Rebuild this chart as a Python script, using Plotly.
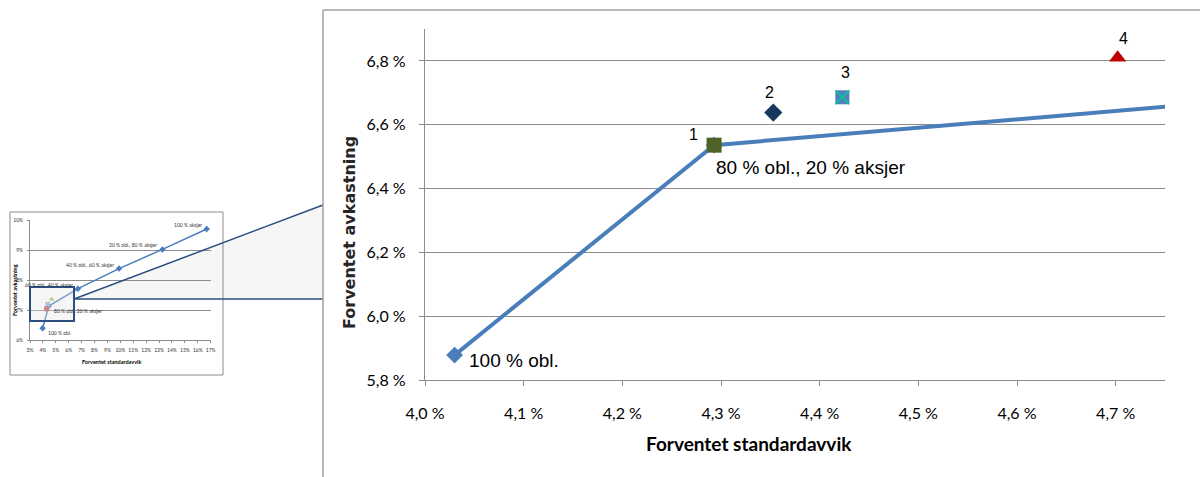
import plotly.graph_objects as go

W, H = 1200, 477

# ---- Main panel: efficient frontier, zoomed in (expected st.dev. vs expected return, %) ----
front_sd = [4.03, 4.293, 6.82]
front_ret = [5.878, 6.536, 7.20]
front_labels = ["100 % obl.", "80 % obl., 20 % aksjer", "60 % obl., 40 % aksjer"]

alt_names = ["1", "2", "3", "4"]
alt_sd = [4.293, 4.353, 4.423, 4.702]
alt_ret = [6.536, 6.638, 6.686, 6.810]

x_tickvals = [4.0, 4.1, 4.2, 4.3, 4.4, 4.5, 4.6, 4.7]
x_ticktext = ["4,0 %", "4,1 %", "4,2 %", "4,3 %", "4,4 %", "4,5 %", "4,6 %", "4,7 %"]
y_tickvals = [5.8, 6.0, 6.2, 6.4, 6.6, 6.8]
y_ticktext = ["5,8 %", "6,0 %", "6,2 %", "6,4 %", "6,6 %", "6,8 %"]

# ---- Overview inset: the full frontier ----
ov_sd = [3.98, 4.45, 6.72, 9.90, 13.26, 16.69]
ov_ret = [6.39, 7.13, 7.71, 8.38, 9.02, 9.70]
ov_labels = ["100 % obl.", "80 % obl., 20 % aksjer", "60 % obl., 40 % aksjer",
             "40 % obl., 60 % aksjer", "20 % obl., 80 % aksjer", "100 % aksjer"]
ov_alt_sd = [4.29, 4.36, 4.68]
ov_alt_ret = [7.04, 7.20, 7.36]
ov_x_tickvals = list(range(3, 18))
ov_x_ticktext = [f"{v}%" for v in ov_x_tickvals]
ov_y_tickvals = [6, 7, 8, 9, 10]
ov_y_ticktext = [f"{v}%" for v in ov_y_tickvals]


def px(x):
    return x / W


def py(y):
    return 1 - y / H


BLUE = "#4a7ebb"
GRID = "#8c8c8c"
NAVY = "#2c4f80"
TICK_FONT = dict(family="Lato", size=16, color="#000000")
LABEL_FONT = dict(family="Liberation Sans", size=19, color="#000000")

fig = go.Figure()

# frontier line (main)
fig.add_trace(go.Scatter(
    x=front_sd, y=front_ret, mode="lines+markers",
    line=dict(color=BLUE, width=4),
    marker=dict(symbol="diamond", size=13, color=BLUE, opacity=1, line=dict(width=0)),
    xaxis="x", yaxis="y", hoverinfo="skip",
))

# alternative portfolios 1-4
alt_symbols = ["square", "diamond", "square", "triangle-up"]
alt_colors = ["#4f6228", "#17375e", "#4f81bd", "#c00000"]
alt_sizes = [15, 14, 14, 15]
fig.add_trace(go.Scatter(
    x=alt_sd, y=alt_ret, mode="markers",
    marker=dict(symbol=alt_symbols, size=alt_sizes, color=alt_colors, opacity=1,
                line=dict(width=0)),
    xaxis="x", yaxis="y", hoverinfo="skip",
))
# cross drawn over portfolio 3
fig.add_trace(go.Scatter(
    x=[alt_sd[2]], y=[alt_ret[2]], mode="markers",
    marker=dict(symbol="x-thin-open", size=14, opacity=1, line=dict(color="#8064a2", width=1.5)),
    xaxis="x", yaxis="y", hoverinfo="skip",
))

# overview inset
fig.add_trace(go.Scatter(
    x=ov_sd, y=ov_ret, mode="lines+markers",
    line=dict(color=BLUE, width=1.5),
    marker=dict(symbol="diamond", size=5, color=BLUE, opacity=1, line=dict(width=0)),
    xaxis="x2", yaxis="y2", hoverinfo="skip",
))
fig.add_trace(go.Scatter(
    x=ov_alt_sd, y=ov_alt_ret, mode="markers",
    marker=dict(symbol=["square", "x", "triangle-up"], size=5, opacity=1,
                color=["#c0504d", "#8fb3d9", "#9bbb59"], line=dict(width=0)),
    xaxis="x2", yaxis="y2", hoverinfo="skip",
))

annotations = []

# frontier labels in main panel (only those inside the visible range)
front_offsets = [(12, -5), (0, -22), (0, -22)]
for sd, ret, txt, (dx, dy) in zip(front_sd, front_ret, front_labels, front_offsets):
    if sd <= 4.75 and ret <= 6.9:
        annotations.append(dict(
            x=sd, y=ret, xref="x", yref="y", text=txt, showarrow=False,
            xanchor="left", yanchor="middle", xshift=dx, yshift=dy, font=LABEL_FONT,
        ))

alt_offsets = [(-21, 11), (-4, 20), (3, 25), (6, 19)]
for sd, ret, txt, (dx, dy) in zip(alt_sd, alt_ret, alt_names, alt_offsets):
    annotations.append(dict(
        x=sd, y=ret, xref="x", yref="y", text=txt, showarrow=False,
        xanchor="center", yanchor="middle", xshift=dx, yshift=dy,
        font=dict(family="Liberation Sans", size=16, color="#000000"),
    ))

# axis titles (main)
annotations.append(dict(
    x=px(749), y=py(443), xref="paper", yref="paper", text="<b>Forventet standardavvik</b>",
    showarrow=False, xanchor="center", yanchor="middle",
    font=dict(family="Lato", size=19, color="#000000"),
))
annotations.append(dict(
    x=px(350), y=py(233), xref="paper", yref="paper", text="<b>Forventet avkastning</b>",
    showarrow=False, xanchor="center", yanchor="middle", textangle=-90,
    font=dict(family="DejaVu Sans", size=16, color="#262626"),
))

# inset labels
SMALL = dict(family="Lato", size=5, color="#333333")
for i, (sd, ret, txt) in enumerate(zip(ov_sd, ov_ret, ov_labels)):
    if i < 2:
        annotations.append(dict(x=sd, y=ret, xref="x2", yref="y2", text=txt, showarrow=False,
                                xanchor="left", yanchor="middle", xshift=3, yshift=-5, font=SMALL))
    else:
        annotations.append(dict(x=sd, y=ret, xref="x2", yref="y2", text=txt, showarrow=False,
                                xanchor="right", yanchor="middle", xshift=-3, yshift=4, font=SMALL))
annotations.append(dict(
    x=px(112), y=py(362), xref="paper", yref="paper", text="<b>Forventet standardavvik</b>",
    showarrow=False, xanchor="center", yanchor="middle",
    font=dict(family="Lato", size=5.5, color="#000000"),
))
annotations.append(dict(
    x=px(15), y=py(290), xref="paper", yref="paper", text="<b>Forventet avkastning</b>",
    showarrow=False, xanchor="center", yanchor="middle", textangle=-90,
    font=dict(family="Lato", size=5.5, color="#000000"),
))

shapes = [
    # inset card
    dict(type="rect", xref="paper", yref="paper", x0=px(10), x1=px(223), y0=py(375), y1=py(212),
         line=dict(width=0), fillcolor="#ffffff", layer="below"),
    # connector wedge towards the magnified panel
    dict(type="path", xref="paper", yref="paper",
         path=f"M {px(74)},{py(299)} L {px(323)},{py(205)} L {px(323)},{py(299)} Z",
         line=dict(width=0), fillcolor="#f6f6f6", layer="below"),
    dict(type="rect", xref="paper", yref="paper", x0=px(10), x1=px(223), y0=py(375), y1=py(212),
         line=dict(color="#8c8c8c", width=1), fillcolor="rgba(0,0,0,0)", layer="below"),
    # zoom window in the inset
    dict(type="rect", xref="paper", yref="paper", x0=px(30), x1=px(74), y0=py(321), y1=py(287),
         line=dict(color=NAVY, width=2), fillcolor="rgba(225,225,225,0.35)", layer="above"),
    dict(type="line", xref="paper", yref="paper", x0=px(74), y0=py(299), x1=px(323), y1=py(205),
         line=dict(color=NAVY, width=1.5), layer="above"),
    dict(type="line", xref="paper", yref="paper", x0=px(74), y0=py(299), x1=px(323), y1=py(299),
         line=dict(color=NAVY, width=1.5), layer="above"),
    # frame of the magnified panel
    dict(type="line", xref="paper", yref="paper", x0=px(323), y0=py(477), x1=px(323), y1=py(10),
         line=dict(color="#a0a0a0", width=1.5), layer="above"),
    dict(type="line", xref="paper", yref="paper", x0=px(323), y0=py(10), x1=px(1200), y1=py(10),
         line=dict(color="#a0a0a0", width=1.5), layer="above"),
]

fig.update_layout(
    width=W, height=H,
    margin=dict(l=0, r=0, t=0, b=0, pad=0, autoexpand=False),
    paper_bgcolor="#ffffff",
    plot_bgcolor="rgba(0,0,0,0)",
    showlegend=False,
    annotations=annotations,
    shapes=shapes,
    xaxis=dict(
        domain=[px(425), px(1165)], range=[4.0, 4.75], anchor="y", automargin=False,
        tickvals=x_tickvals, ticktext=x_ticktext, tickfont=TICK_FONT,
        ticks="outside", ticklen=5, tickcolor=GRID, tickwidth=1.3,
        showline=True, linecolor=GRID, linewidth=1.3,
        showgrid=False, zeroline=False, ticklabelstandoff=14,
    ),
    yaxis=dict(
        domain=[py(380), py(29)], range=[5.8, 6.9], anchor="x", automargin=False,
        tickvals=y_tickvals, ticktext=y_ticktext, tickfont=TICK_FONT,
        ticks="outside", ticklen=5, tickcolor=GRID, tickwidth=1.3,
        showline=True, linecolor=GRID, linewidth=1.3,
        showgrid=True, gridcolor=GRID, gridwidth=1.3, zeroline=False,
        ticklabelstandoff=10,
    ),
    xaxis2=dict(
        domain=[px(30), px(210.7)], range=[3, 17], anchor="y2", automargin=False,
        tickvals=ov_x_tickvals, ticktext=ov_x_ticktext,
        tickfont=dict(family="Lato", size=5, color="#333333"),
        ticks="outside", ticklen=2, tickcolor=GRID, tickwidth=0.8,
        showline=True, linecolor=GRID, linewidth=0.8,
        showgrid=False, zeroline=False, ticklabelstandoff=3,
    ),
    yaxis2=dict(
        domain=[py(340), py(220)], range=[6, 10], anchor="x2", automargin=False,
        tickvals=ov_y_tickvals, ticktext=ov_y_ticktext,
        tickfont=dict(family="Lato", size=5, color="#333333"),
        ticks="outside", ticklen=2, tickcolor=GRID, tickwidth=0.8,
        showline=True, linecolor=GRID, linewidth=0.8,
        showgrid=True, gridcolor=GRID, gridwidth=0.8, zeroline=False,
        ticklabelstandoff=3,
    ),
)

fig.write_html("out.html")
